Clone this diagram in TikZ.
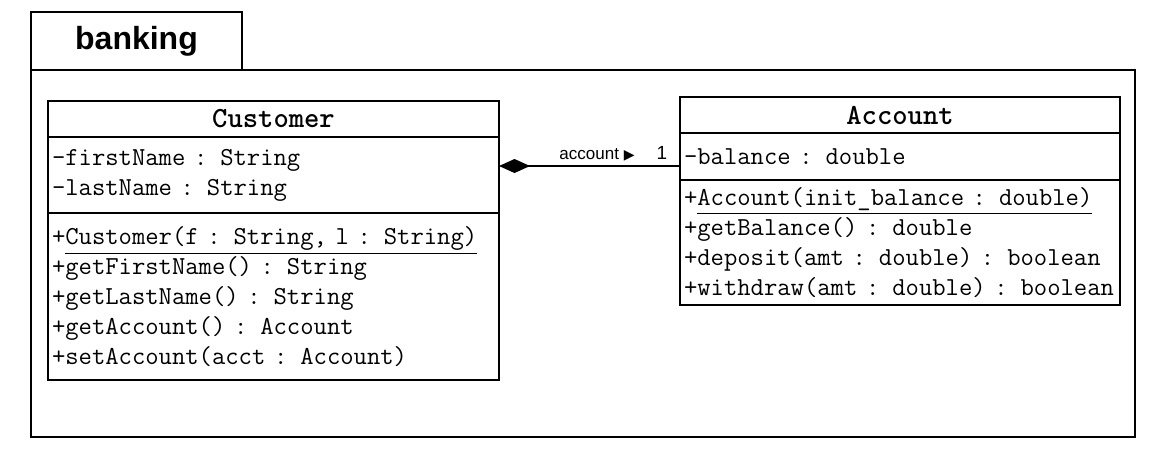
\documentclass[tikz,border=0pt]{standalone}
\usepackage{fontspec}
\newfontfamily\pkgfont{Liberation Sans}
\newfontfamily\symfont{DejaVu Sans}
\usetikzlibrary{positioning,arrows.meta}

\tikzset{
  part/.style={draw,line width=1pt,outer sep=0pt,inner xsep=2pt,inner ysep=0pt,
    align=left,font=\ttfamily\fontsize{12.95}{15}\selectfont},
  custpart/.style={part,text width=221.5pt},
  acctpart/.style={part,text width=216pt},
  titlepart/.style={align=center,font=\ttfamily\bfseries\fontsize{14.6}{15}\selectfont,
    minimum height=18pt},
  small/.style={font=\pkgfont\fontsize{8.5}{10}\selectfont}
}

\begin{document}
\begin{tikzpicture}[x=0.5pt,y=-0.5pt]
\useasboundingbox (0,0) rectangle (1150,457);

% package
\node[draw,line width=1pt,outer sep=0pt,minimum width=105.5pt,minimum height=29pt,
  font=\pkgfont\bfseries\fontsize{16}{18}\selectfont] (tab) at (136.5,41) {banking};
\node[draw,line width=1pt,outer sep=0pt,anchor=north west,minimum width=552pt,
  minimum height=183.5pt] (pkg) at (31,70) {};

% Customer
\node[custpart,titlepart,anchor=north west] (custname) at (48,101) {Customer};
\node[custpart,below=0pt of custname,minimum height=38pt] (custattr)
  {-firstName : String\\-lastName : String};
\node[custpart,below=0pt of custattr,minimum height=83.5pt] (custops)
  {+\underline{Customer(f : String, l : String)}\\
   +getFirstName() : String\\
   +getLastName() : String\\
   +getAccount() : Account\\
   +setAccount(acct : Account)};

% Account
\node[acctpart,titlepart,anchor=north west] (acctname) at (680,97) {Account};
\node[acctpart,below=0pt of acctname,minimum height=23.5pt] (acctattr)
  {-balance : double};
\node[acctpart,below=0pt of acctattr,minimum height=62.5pt] (acctops)
  {+\underline{Account(init\_balance : double)}\\
   +getBalance() : double\\
   +deposit(amt : double) : boolean\\
   +withdraw(amt : double) : boolean};

% association
\coordinate (assoc) at (590,166);
\draw[line width=1pt,{Diamond[length=15.5pt,width=7pt]}-]
  (custattr.east |- assoc) -- (acctattr.west |- assoc);
\node[small] (role) at (597,155) {account {\symfont\fontsize{7}{8}\selectfont ▶}};
\node[small,font=\pkgfont\fontsize{9.5}{10}\selectfont] (mult) at (662,153) {1};
\end{tikzpicture}
\end{document}
